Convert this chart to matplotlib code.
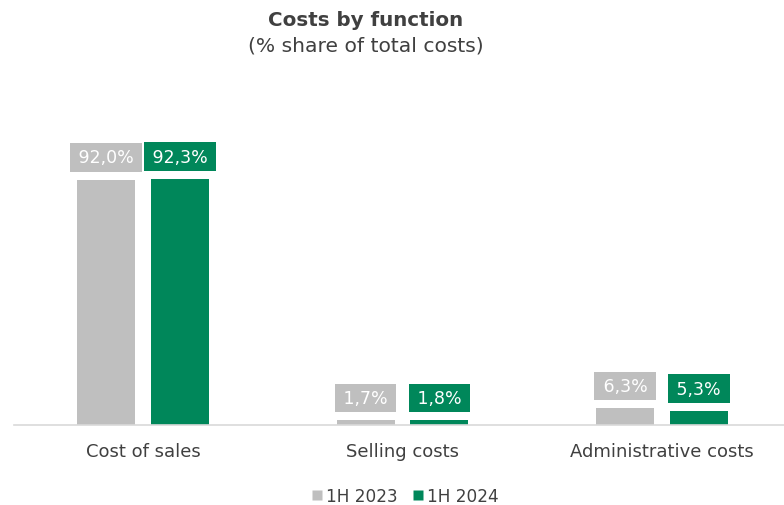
import matplotlib
matplotlib.use("Agg")
import matplotlib.pyplot as plt
from matplotlib.lines import Line2D

plt.rcParams['font.family'] = ['DejaVu Sans']

categories = ["Cost of sales", "Selling costs", "Administrative costs"]
series_names = ["1H 2023", "1H 2024"]
values_2023 = [92.0, 1.7, 6.3]
values_2024 = [92.3, 1.8, 5.3]
labels_2023 = ["92,0%", "1,7%", "6,3%"]
labels_2024 = ["92,3%", "1,8%", "5,3%"]

GRAY = "#BFBFBF"
GREEN = "#00875A"
TEXT = "#404040"

W, H = 784, 506
fig = plt.figure(figsize=(W / 100, H / 100), dpi=100)
# axes placed in pixel terms: baseline at y=426 px from top
ax = fig.add_axes([14 / W, 80 / H, 770 / W, 266.7 / H])

x = list(range(len(categories)))
bw = 0.223
off = 0.142
xs1 = [i - off for i in x]
xs2 = [i + off for i in x]
ax.bar(xs1, values_2023, width=bw, color=GRAY, zorder=2)
ax.bar(xs2, values_2024, width=bw, color=GREEN, zorder=2)

THIN = "\u2009"
for xs, vals, labs, col in [(xs1, values_2023, labels_2023, GRAY),
                            (xs2, values_2024, labels_2024, GREEN)]:
    for xi, v, lab in zip(xs, vals, labs):
        ax.annotate(THIN + lab + THIN, (xi, v), xytext=(0, 9.6),
                    textcoords="offset points",
                    ha="center", va="bottom", color="white", fontsize=12.5,
                    annotation_clip=False,
                    bbox=dict(boxstyle="square,pad=0.3", fc=col, ec="none"))

ax.set_xlim(-0.497, 2.47)
ax.set_ylim(0, 100)
for s in ["top", "right", "left"]:
    ax.spines[s].set_visible(False)
ax.spines["bottom"].set_color("#D9D9D9")
ax.spines["bottom"].set_linewidth(1.2)
ax.set_yticks([])
ax.set_xticks(x)
ax.set_xticklabels(categories, fontsize=13, color=TEXT)
ax.tick_params(axis="x", length=0, pad=12)

fig.text(366 / W, 1 - 20 / H, "Costs by function", ha="center", va="center",
         fontsize=14.3, fontweight="bold", color=TEXT)
fig.text(366 / W, 1 - 46 / H, "(% share of total costs)", ha="center", va="center",
         fontsize=14.6, color=TEXT)

handles = [Line2D([], [], marker="s", linestyle="none", markersize=7.5,
                  markerfacecolor=c, markeredgecolor="none") for c in (GRAY, GREEN)]
fig.legend(handles, series_names, loc="center", bbox_to_anchor=(0.5155, 1 - 497 / H),
           ncol=2, frameon=False, fontsize=12.2, labelcolor=TEXT,
           handletextpad=0.1, columnspacing=0.75, handlelength=0.9)

fig.savefig("out.png", dpi=100)
